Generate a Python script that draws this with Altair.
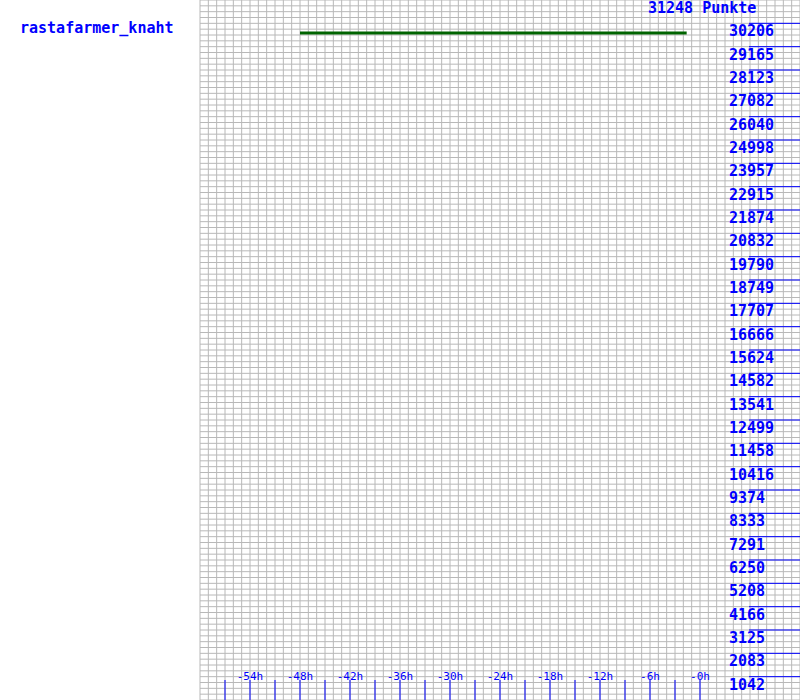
import altair as alt
import pandas as pd

player = "rastafarmer_knaht"
total_label = "31248 Punkte"
y_max = 31248

# green series (hours relative to now, points)
line_hours = [-48, -1.6]
line_points = [29780, 29780]

# y-axis labels
y_labels = [1042, 2083, 3125, 4166, 5208, 6250, 7291, 8333, 9374, 10416,
            11458, 12499, 13541, 14582, 15624, 16666, 17707, 18749, 19790,
            20832, 21874, 22915, 23957, 24998, 26040, 27082, 28123, 29165, 30206]

# x ticks
x_tick_hours = [-57, -54, -51, -48, -45, -42, -39, -36, -33, -30, -27, -24,
                -21, -18, -15, -12, -9, -6, -3, 0]
x_label_hours = [-54, -48, -42, -36, -30, -24, -18, -12, -6, 0]
x_label_text = ["-54h", "-48h", "-42h", "-36h", "-30h", "-24h", "-18h",
                "-12h", "-6h", "-0h"]

x_domain = [-60, 12]
x_grid = list(range(-60, 13))
y_grid = [y_max * i / 120 for i in range(121)]

xs = alt.Scale(domain=x_domain, nice=False, zero=False)
ys = alt.Scale(domain=[0, y_max], nice=False, zero=False)

BLUE = "#0000ff"
GRID = "#b8b8b8"
FONT = "DejaVu Sans Mono"

noaxis = None

gx = alt.Chart(pd.DataFrame({"h": x_grid})).mark_rule(color=GRID, strokeWidth=1).encode(
    x=alt.X("h:Q", scale=xs, axis=noaxis),
    y=alt.value(0), y2=alt.value(700),
)
gy = alt.Chart(pd.DataFrame({"v": y_grid})).mark_rule(color=GRID, strokeWidth=1).encode(
    y=alt.Y("v:Q", scale=ys, axis=noaxis),
    x=alt.value(0), x2=alt.value(600),
)

line_df = pd.DataFrame({"h": line_hours, "p": line_points})
line = alt.Chart(line_df).mark_line(color="#006400", strokeWidth=3).encode(
    x=alt.X("h:Q", scale=xs, axis=noaxis),
    y=alt.Y("p:Q", scale=ys, axis=noaxis),
)

ydf = pd.DataFrame({"v": y_labels, "t": [str(v) for v in y_labels]})
y_rules = alt.Chart(ydf).mark_rule(color=BLUE, strokeWidth=1).encode(
    y=alt.Y("v:Q", scale=ys, axis=noaxis),
    x=alt.value(549), x2=alt.value(600),
)
y_text = alt.Chart(ydf).mark_text(
    color=BLUE, font=FONT, fontSize=15, fontWeight="bold",
    align="left", baseline="middle", dy=8
).encode(
    y=alt.Y("v:Q", scale=ys, axis=noaxis),
    x=alt.value(529),
    text="t:N",
)

xtdf = pd.DataFrame({"h": x_tick_hours})
x_rules = alt.Chart(xtdf).mark_rule(color=BLUE, strokeWidth=1).encode(
    x=alt.X("h:Q", scale=xs, axis=noaxis),
    y=alt.value(680), y2=alt.value(700),
)
xldf = pd.DataFrame({"h": x_label_hours, "t": x_label_text})
x_text = alt.Chart(xldf).mark_text(
    color=BLUE, font=FONT, fontSize=11, align="center", baseline="middle"
).encode(
    x=alt.X("h:Q", scale=xs, axis=noaxis),
    y=alt.value(677),
    text="t:N",
)

title = alt.Chart(pd.DataFrame({"t": [total_label]})).mark_text(
    color=BLUE, font=FONT, fontSize=15, fontWeight="bold",
    align="left", baseline="top"
).encode(x=alt.value(448), y=alt.value(1), text="t:N")

name = alt.Chart(pd.DataFrame({"t": [player]})).mark_text(
    color=BLUE, font=FONT, fontSize=15, fontWeight="bold",
    align="left", baseline="middle"
).encode(x=alt.value(-180), y=alt.value(28), text="t:N")

chart = alt.layer(gx, gy, line, y_rules, y_text, x_rules, x_text, title, name).properties(
    width=600, height=700,
    padding={"left": 200, "right": 0, "top": 0, "bottom": 0},
    autosize=alt.AutoSizeParams(type="none"),
    background="white",
).configure_view(stroke=None)

chart.save("out.html", embed_options={"renderer": "svg", "actions": False})
